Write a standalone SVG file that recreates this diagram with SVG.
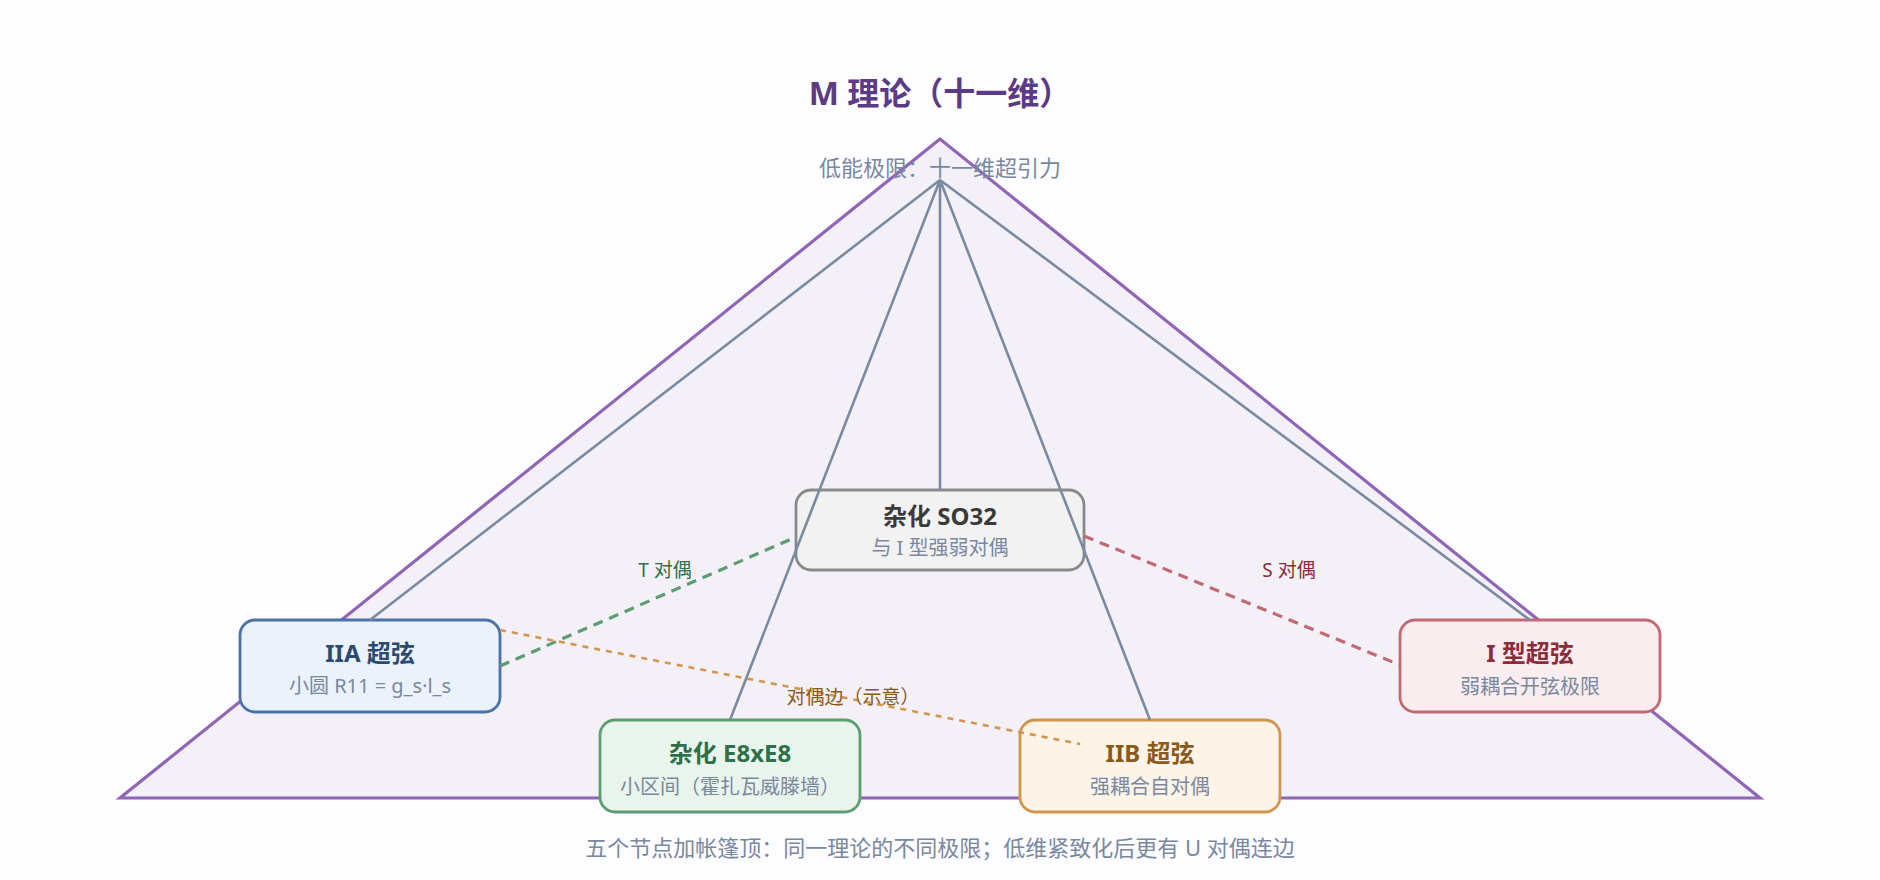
<svg xmlns="http://www.w3.org/2000/svg" width="1880" height="880" viewBox="0 0 1880 880">
<style>
text{font-family:"Noto Sans","Noto Sans CJK SC",sans-serif;}
.title{font-size:32px;font-weight:bold;fill:#5b3b86;text-anchor:middle;}
.sub{font-size:22px;fill:#7888a0;text-anchor:middle;}
.nt{font-size:24px;font-weight:bold;text-anchor:middle;}
.ns{font-size:20px;fill:#7888a0;text-anchor:middle;}
.box{stroke-width:2.8;}
.spoke{stroke:#7a8aa0;stroke-width:2.6;fill:none;}
.lbl{font-size:19px;text-anchor:middle;}
</style>
<rect width="1880" height="880" fill="#fdfcfe"/>
<polygon points="940,139 120,798 1760,798" fill="#f3f0f8" stroke="#8f65b6" stroke-width="3.2" stroke-linejoin="miter"/>
<text class="title" x="940" y="105">M 理论（十一维）</text>
<text class="sub" x="940" y="176">低能极限：十一维超引力</text>
<text class="sub" x="940" y="856">五个节点加帐篷顶：同一理论的不同极限；低维紧致化后更有 U 对偶连边</text>

<g id="node-so32">
<rect class="box" x="796" y="490" width="288" height="80" rx="15" fill="#f2f2f2" stroke="#8a8a8a"/>
<text class="nt" x="940" y="525" fill="#3a3a3a">杂化 SO32</text>
<text class="ns" x="940" y="555">与 I 型强弱对偶</text>
</g>
<g id="node-iia">
<rect class="box" x="240" y="620" width="260" height="92" rx="15" fill="#ebf2fb" stroke="#4a72a8"/>
<text class="nt" x="370" y="662" fill="#2b4a72">IIA 超弦</text>
<text class="ns" x="370" y="693">小圆 R11 = g_s·l_s</text>
</g>
<g id="node-e8">
<rect class="box" x="600" y="720" width="260" height="92" rx="15" fill="#e9f5ec" stroke="#5e9c72"/>
<text class="nt" x="730" y="762" fill="#2e7048">杂化 E8xE8</text>
<text class="ns" x="730" y="794">小区间（霍扎瓦威滕墙）</text>
</g>
<g id="node-iib">
<rect class="box" x="1020" y="720" width="260" height="92" rx="15" fill="#fdf3e6" stroke="#d0964e"/>
<text class="nt" x="1150" y="762" fill="#8a5a1c">IIB 超弦</text>
<text class="ns" x="1150" y="794">强耦合自对偶</text>
</g>
<g id="node-i">
<rect class="box" x="1400" y="620" width="260" height="92" rx="15" fill="#faedf0" stroke="#c26a74"/>
<text class="nt" x="1530" y="662" fill="#8a2c3a">I 型超弦</text>
<text class="ns" x="1530" y="694">弱耦合开弦极限</text>
</g>

<g id="connectors">
<line class="spoke" x1="940" y1="180" x2="370" y2="620"/>
<line class="spoke" x1="940" y1="180" x2="730" y2="720"/>
<line class="spoke" x1="940" y1="180" x2="940" y2="490"/>
<line class="spoke" x1="940" y1="180" x2="1150" y2="720"/>
<line class="spoke" x1="940" y1="180" x2="1530" y2="620"/>
<line x1="500" y1="666" x2="796" y2="537" stroke="#5e9c72" stroke-width="3.2" stroke-dasharray="10 7"/>
<line x1="1084" y1="536" x2="1400" y2="665" stroke="#c26a74" stroke-width="3.2" stroke-dasharray="10 7"/>
<line x1="500" y1="630" x2="1080" y2="744" stroke="#d4964e" stroke-width="2.6" stroke-dasharray="6 6"/>
<text class="lbl" x="665" y="577" fill="#2e7048">T 对偶</text>
<text class="lbl" x="1289" y="577" fill="#8a2c3a">S 对偶</text>
<text class="lbl" x="853" y="704" fill="#8a5a1c">对偶边（示意）</text>
</g>
</svg>
